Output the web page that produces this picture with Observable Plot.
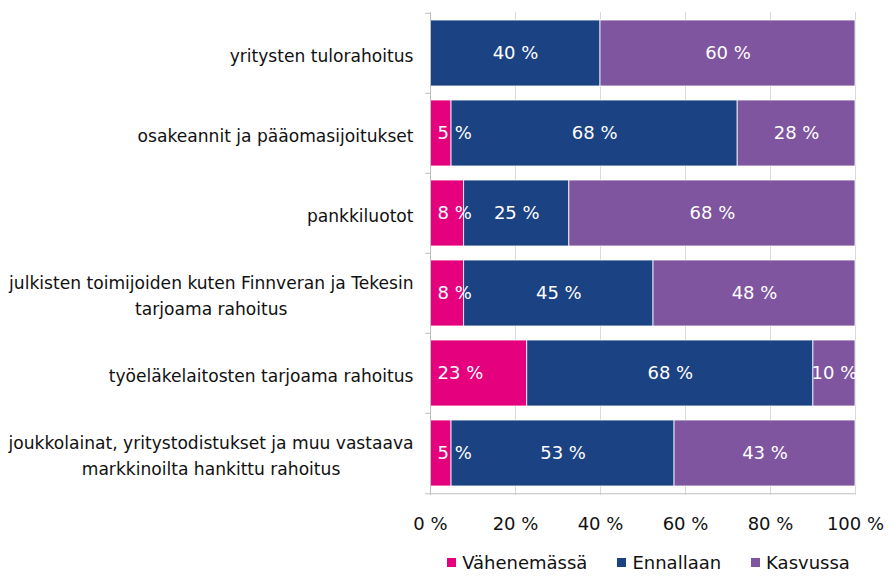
<!DOCTYPE html>
<html><head><meta charset="utf-8">
<script src="https://cdn.jsdelivr.net/npm/d3@7"></script>
<script src="https://cdn.jsdelivr.net/npm/@observablehq/plot@0.6"></script>
<style>
body{margin:0;background:#fff;font-family:"DejaVu Sans",Verdana,sans-serif;}
#legend{margin-left:436px;width:425px;height:34px;display:flex;justify-content:center;align-items:center;gap:30px;font-size:18px;color:#111;}
#legend .it{display:flex;align-items:center;gap:6px;}
#legend .sw{width:9px;height:9px;display:inline-block;}
</style></head><body><div id="chart"></div><div id="legend"></div>
<script>
const categories = [
  "yritysten tulorahoitus",
  "osakeannit ja pääomasijoitukset",
  "pankkiluotot",
  "julkisten toimijoiden kuten Finnveran ja Tekesin\ntarjoama rahoitus",
  "työeläkelaitosten tarjoama rahoitus",
  "joukkolainat, yritystodistukset ja muu vastaava\nmarkkinoilta hankittu rahoitus"
];
const series = ["Vähenemässä", "Ennallaan", "Kasvussa"];
const vahenemassa = [0, 5, 8, 8, 23, 5];
const ennallaan = [40, 68, 25, 45, 68, 53];
const kasvussa = [60, 28, 68, 48, 10, 43];
const colors = ["#e5007e", "#1b4282", "#7e559e"];
const xTicks = [0, 0.2, 0.4, 0.6, 0.8, 1];

const valuesBySeries = [vahenemassa, ennallaan, kasvussa];
const data = [];
categories.forEach((cat, i) => series.forEach((s, j) => data.push({cat, series: s, value: valuesBySeries[j][i]})));

const W = 892, H = 545, mT = 12, mB = 50, mL = 430, mR = 37;
const pIn = 0.17, pOut = 0.085;
const step = (H - mT - mB) / (categories.length - pIn + 2 * pOut);

const labelSize = 17.1;
const ctx = document.createElement("canvas").getContext("2d");
ctx.font = labelSize + "px 'DejaVu Sans'";
const labelMarks = categories.map(cat => {
  const w = Math.max(...cat.split("\n").map(l => ctx.measureText(l).width));
  return Plot.text([cat], {x: () => 0, y: d => d, text: d => d, textAnchor: "middle", dx: -17 - w / 2, fontSize: labelSize, lineHeight: 1.5, fill: "#111"});
});

const chart = Plot.plot({
  width: W, height: H, marginTop: mT, marginBottom: mB, marginLeft: mL, marginRight: mR,
  style: {fontFamily: "'DejaVu Sans', Verdana, sans-serif", fontSize: "18px", color: "#111", background: "#fff"},
  x: {domain: [0, 1], ticks: xTicks, tickFormat: d => Math.round(d * 100) + " %", tickSize: 0, tickPadding: 22, label: null},
  y: {domain: categories, paddingInner: pIn, paddingOuter: pOut, axis: null},
  color: {domain: series, range: colors},
  marks: [
    Plot.ruleX(xTicks, {stroke: "#d9d9d9"}),
    Plot.barX(data, Plot.stackX({x: "value", y: "cat", fill: "series", order: series, offset: "normalize", stroke: "#fff", strokeWidth: 0.8})),
    Plot.text(data, Plot.stackX({x: "value", y: "cat", z: "series", order: series, offset: "normalize",
      text: d => d.series !== series[0] && d.value > 0 ? d.value + " %" : null, fill: "#fff", fontSize: 18})),
    Plot.text(data, Plot.stackX1({x: "value", y: "cat", z: "series", order: series, offset: "normalize",
      text: d => d.series === series[0] && d.value > 0 ? d.value + " %" : null, fill: "#fff", fontSize: 18, textAnchor: "start", dx: 7})),
    Plot.ruleX([0], {stroke: "#bfbfbf"}),
    Plot.ruleY([categories[categories.length - 1]], {x1: 0, x2: 1, dy: step / 2, stroke: "#bfbfbf"}),
    Plot.ruleY(categories, {y: d => d, x1: 0, x2: 0, insetLeft: -5, dy: -step / 2, stroke: "#bfbfbf"}),
    Plot.ruleY([categories[categories.length - 1]], {x1: 0, x2: 0, insetLeft: -5, dy: step / 2, stroke: "#bfbfbf"}),
    ...labelMarks
  ]
});
document.getElementById("chart").appendChild(chart);

const legend = document.getElementById("legend");
series.forEach((s, i) => {
  const it = document.createElement("span");
  it.className = "it";
  const sw = document.createElement("span");
  sw.className = "sw";
  sw.style.background = colors[i];
  const t = document.createElement("span");
  t.textContent = s;
  it.appendChild(sw); it.appendChild(t);
  legend.appendChild(it);
});
</script></body></html>
